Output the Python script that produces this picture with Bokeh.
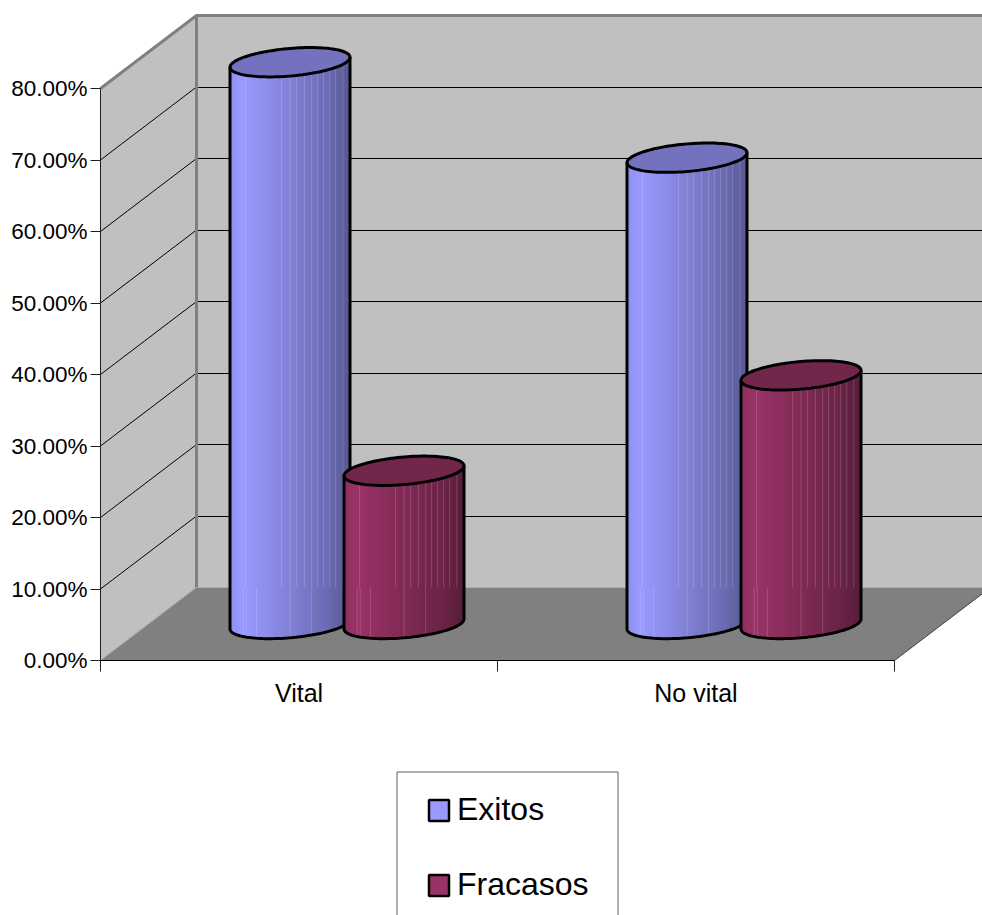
import numpy as np
from bokeh.embed import file_html
from bokeh.resources import INLINE
from bokeh.plotting import figure
from bokeh.models import (BoxAnnotation, FixedTicker, Legend, LegendItem,
                          LinearAxis, NumeralTickFormatter, Range1d)

# Chart values
categories = ["Vital", "No vital"]
exitos = [0.7857, 0.6522]
fracasos = [0.2143, 0.3478]
value_ticks = [0.0, 0.1, 0.2, 0.3, 0.4, 0.5, 0.6, 0.7, 0.8]
series_names = ["Exitos", "Fracasos"]
series_colors = ["#9999FF", "#993366"]
top_colors = ["#7272BE", "#72264C"]

# Scale: one category is 397 px wide, one unit of value is 715 px tall
PX_X, PX_Y = 397.0, 715.0
X0_PX, Y0_PX = 100.0, 660.0
W, H = 982, 915

# Depth of the 3D box, in data units
DX, DY = 96 / PX_X, 73 / PX_Y

# Cylinder geometry, in data units
BAR_OFFSET = 57 / PX_X
RX = 60 / PX_X
SHEAR = 5 / PX_Y
RY = 13.8 / PX_Y
BASE_Y = DY / 2

# Shading across a cylinder, from its left edge to its right edge
SHADE_U = [0.0, 0.10, 0.20, 0.50, 0.80, 1.0]
SHADE_F = [0.93, 1.0, 0.97, 0.84, 0.71, 0.58]
STREAKS_UPPER = [0.13, 0.43, 0.50, 0.555, 0.62, 0.68, 0.73, 0.78, 0.83, 0.88, 0.94]
STREAKS_LOWER = [0.11, 0.135, 0.22, 0.50, 0.68]
N_STRIPS = 60

p = figure(
    width=W, height=H, output_backend="svg", toolbar_location=None, tools="",
    x_range=Range1d(-X0_PX / PX_X, (W - X0_PX) / PX_X),
    y_range=Range1d((Y0_PX - H) / PX_Y, Y0_PX / PX_Y),
    x_axis_type=None, y_axis_type=None,
    min_border=0, min_border_left=0, min_border_right=0,
    min_border_top=0, min_border_bottom=0,
    outline_line_color=None, background_fill_color="white",
)
p.grid.visible = False

top = value_ticks[-1]
WALL = "#C0C0C0"
EDGE = "#808080"


def crisp_y(v):
    """Nudge a height onto a whole pixel row so thin lines stay sharp."""
    return (Y0_PX - np.floor(Y0_PX - v * PX_Y + 0.5)) / PX_Y


# Side wall, back wall and floor
p.patch([0, DX, DX, 0], [top, top + DY, DY, 0], fill_color=WALL, line_color=None)
p.patch([DX, 2 + DX, 2 + DX, DX], [top + DY, top + DY, DY, DY], fill_color=WALL, line_color=None)
p.patch([0, 2, 2 + DX, DX], [0, 0, DY, DY], fill_color=EDGE, line_color=None)

# Grid lines running over the side wall and along the back wall
inner = [t for t in value_ticks if 0 < t < top]
p.multi_line([[0, DX] for _ in inner], [[t, t + DY] for t in inner],
             line_color="black", line_width=1)
p.multi_line([[DX, 2 + DX] for _ in inner], [[crisp_y(t + DY)] * 2 for t in inner],
             line_color="black", line_width=1)

# Wall edges
p.line([0, DX, 2 + DX], [top, top + DY, top + DY], line_color=EDGE, line_width=3)
p.line([DX, DX], [top + DY, DY], line_color=EDGE, line_width=3)
p.line([DX, 0], [DY, 0], line_color="#A0A0A0", line_width=1)
p.line([2, 2 + DX], [0, DY], line_color="#404040", line_width=1)


def rim(cx, cy, t):
    return cx + RX * np.cos(t), cy + SHEAR * np.cos(t) + RY * np.sin(t)


def front_y(cx, cy, xs):
    c = np.clip((xs - cx) / RX, -1, 1)
    return cy + SHEAR * c - RY * np.sqrt(1 - c ** 2)


def cylinder(cx, value, rgb, top_color):
    """Draw one shaded cylinder standing on the floor and reaching `value`."""
    y_top = BASE_Y + value
    edges = np.linspace(cx - RX, cx + RX, N_STRIPS + 1)
    xs, ys, colors = [], [], []
    for a, b in zip(edges[:-1], edges[1:]):
        sub = np.linspace(a, b, 4)
        xs.append(list(sub) + list(sub[::-1]))
        ys.append(list(front_y(cx, BASE_Y, sub)) + list(front_y(cx, y_top, sub[::-1])))
        f = np.interp((0.5 * (a + b) - (cx - RX)) / (2 * RX), SHADE_U, SHADE_F)
        colors.append("#%02x%02x%02x" % tuple(int(round(c * f)) for c in rgb))
    p.patches(xs, ys, fill_color=colors, line_color=colors, line_width=1)

    # Faint vertical streaks on the side of the cylinder
    sx, sy = [], []
    for u in STREAKS_UPPER:
        x = cx - RX + 2 * RX * u
        sx.append([x, x])
        sy.append([DY, float(front_y(cx, y_top, np.array([x]))[0])])
    for u in STREAKS_LOWER:
        x = cx - RX + 2 * RX * u
        sx.append([x, x])
        sy.append([float(front_y(cx, BASE_Y, np.array([x]))[0]), DY])
    p.multi_line(sx, sy, line_color="white", line_alpha=0.16, line_width=1)

    # Top face and outline
    t = np.linspace(0, 2 * np.pi, 121)
    ex, ey = rim(cx, y_top, t)
    p.patch(ex, ey, fill_color=top_color, line_color="black", line_width=3)
    bt = np.linspace(np.pi, 2 * np.pi, 61)
    bx, by = rim(cx, BASE_Y, bt)
    ox = [cx - RX] + list(bx) + [cx + RX]
    oy = [y_top - SHEAR] + list(by) + [y_top + SHEAR]
    p.line(ox, oy, line_color="black", line_width=3)


def to_rgb(h):
    return [int(h[i:i + 2], 16) for i in (1, 3, 5)]


for i in range(len(categories)):
    centre = i + 0.5 + DX / 2
    cylinder(centre - BAR_OFFSET, exitos[i], to_rgb(series_colors[0]), top_colors[0])
    cylinder(centre + BAR_OFFSET, fracasos[i], to_rgb(series_colors[1]), top_colors[1])

# Value axis
y_axis = LinearAxis(fixed_location=0, ticker=FixedTicker(ticks=value_ticks),
                    formatter=NumeralTickFormatter(format="0.00%"),
                    major_tick_out=10, major_tick_in=0, minor_tick_out=0, minor_tick_in=0,
                    major_tick_line_color="#202020", axis_line_color="#202020",
                    major_label_text_font="Liberation Sans", major_label_text_font_size="22.5px",
                    major_label_text_color="black", major_label_standoff=3)
y_axis.bounds = (0, top)
p.add_layout(y_axis, "left")

# Category axis: tick marks at the borders, names in the middle
x_axis = LinearAxis(fixed_location=0, ticker=FixedTicker(ticks=[0, 1, 2]),
                    major_label_overrides={0: "", 1: "", 2: ""},
                    major_tick_out=11, major_tick_in=0, minor_tick_out=0, minor_tick_in=0,
                    major_tick_line_color="#202020", axis_line_color="black")
x_axis.bounds = (0, 2)
p.add_layout(x_axis, "below")

name_axis = LinearAxis(fixed_location=0, ticker=FixedTicker(ticks=[0.5, 1.5]),
                       major_label_overrides={0.5: categories[0], 1.5: categories[1]},
                       major_tick_out=0, major_tick_in=0, minor_tick_out=0, minor_tick_in=0,
                       axis_line_color=None,
                       major_label_text_font="Liberation Sans", major_label_text_font_size="25px",
                       major_label_text_color="black", major_label_standoff=18)
p.add_layout(name_axis, "below")

# Legend frame runs off the bottom of the page (screen heights count from the page bottom)
p.add_layout(BoxAnnotation(left=396.5, right=617.5, top=H - 771.5, bottom=-30,
                           left_units="screen", right_units="screen",
                           top_units="screen", bottom_units="screen",
                           fill_color="white", fill_alpha=1,
                           line_color="#606060", line_alpha=1, line_width=1, level="overlay"))

# Legend entries
items = []
for name, color in zip(series_names, series_colors):
    swatch = p.quad(left=[np.nan], right=[np.nan], top=[np.nan], bottom=[np.nan],
                    fill_color=color, line_color="black", line_width=2.5)
    items.append(LegendItem(label=name, renderers=[swatch]))
legend = Legend(items=items, location=(426, 12), orientation="vertical",
                label_text_font="Liberation Sans", label_text_font_size="32px",
                label_text_color="black", glyph_width=25, glyph_height=26,
                label_standoff=6, padding=30, spacing=38, margin=0,
                border_line_color=None, background_fill_alpha=0, level="overlay")
p.add_layout(legend)

open("out.html", "w").write(file_html(p, INLINE))
